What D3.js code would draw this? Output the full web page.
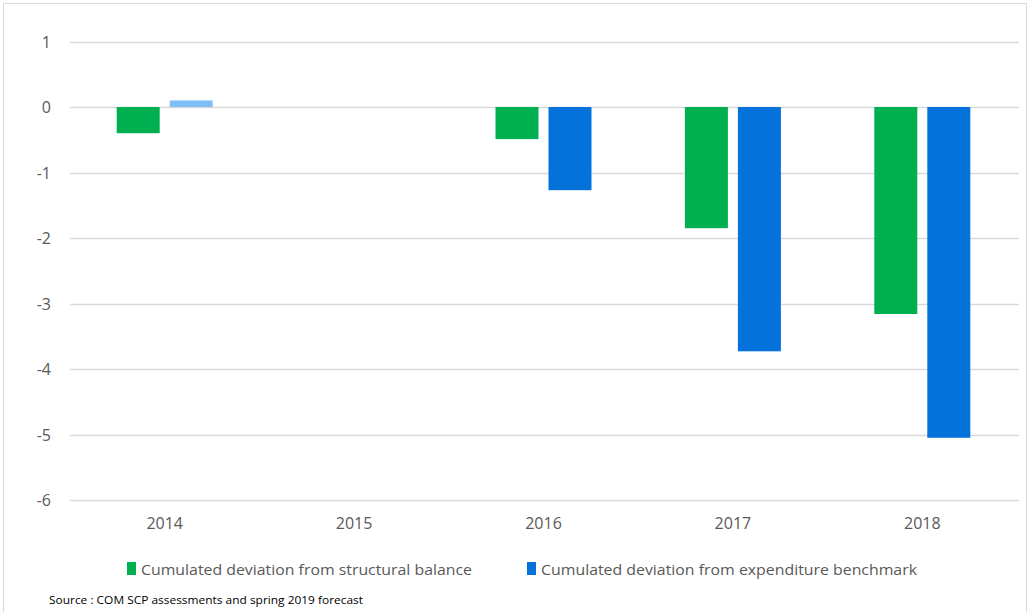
<!DOCTYPE html>
<html><head><meta charset="utf-8">
<script src="https://cdn.jsdelivr.net/npm/d3@7"></script>
<style>body{margin:0;background:#fff}svg{display:block}</style>
</head><body>
<script>
const categories = ["2014","2015","2016","2017","2018"];
const seriesNames = ["Cumulated deviation from structural balance","Cumulated deviation from expenditure benchmark"];
const structuralBalance = [-0.40, null, -0.49, -1.85, -3.16];
const expenditureBenchmark = [0.10, null, -1.27, -3.73, -5.05];
const yTicks = [1,0,-1,-2,-3,-4,-5,-6];
const sourceText = "Source : COM SCP assessments and spring 2019 forecast";

const W=1029,H=612;
const svg=d3.select("body").append("svg").attr("width",W).attr("height",H);
svg.append("rect").attr("x",3.5).attr("y",3.5).attr("width",1023).attr("height",620).attr("fill","#fff").attr("stroke","#d9d9d9");

const x=d3.scaleBand().domain(categories).range([70,1017]);
const y=d3.scaleLinear().domain([-6,1]).range([500,41.5]);
const colors=["#00B050","#0572DB"];
const font="'Open Sans', 'Liberation Sans', Arial, sans-serif";

svg.append("g").selectAll("line").data(yTicks).join("line")
 .attr("x1",70).attr("x2",1019).attr("y1",d=>Math.round(y(d))+0.5).attr("y2",d=>Math.round(y(d))+0.5)
 .attr("stroke","#d9d9d9").attr("stroke-width",1.3);

svg.append("g").selectAll("text").data(yTicks).join("text")
 .attr("x",51).attr("y",d=>y(d)+6).attr("text-anchor","end")
 .attr("font-family",font).attr("font-size",16).attr("fill","#595959").text(d=>d);

svg.append("g").selectAll("text").data(categories).join("text")
 .attr("x",d=>x(d)+x.bandwidth()/2).attr("y",529).attr("text-anchor","middle")
 .attr("font-family",font).attr("font-size",16).attr("fill","#595959").text(d=>d);

const series=[structuralBalance,expenditureBenchmark];
const bw=43, gap=10;
series.forEach((vals,si)=>{
  svg.append("g").selectAll("rect").data(categories.map((c,i)=>({c,v:vals[i]})).filter(d=>d.v!==null)).join("rect")
   .attr("x",d=>x(d.c)+x.bandwidth()/2+(si===0?-(bw+gap/2):gap/2))
   .attr("width",bw)
   .attr("y",d=>Math.min(y(d.v),y(0)))
   .attr("height",d=>Math.abs(y(d.v)-y(0)))
   .attr("fill",d=>(si===1&&d.v>0)?"#80BEF7":colors[si]);
});

const legX=[127,527], legLen=[331,376];
seriesNames.forEach((n,i)=>{
  svg.append("rect").attr("x",legX[i]).attr("y",562).attr("width",9).attr("height",13).attr("fill",colors[i]);
  svg.append("text").attr("x",legX[i]+14).attr("y",575).attr("font-family",font).attr("font-size",15)
   .attr("textLength",legLen[i]).attr("lengthAdjust","spacingAndGlyphs")
   .attr("fill","#595959").text(n);
});
svg.append("text").attr("x",49).attr("y",604).attr("font-family",font).attr("font-size",11)
 .attr("textLength",314).attr("lengthAdjust","spacingAndGlyphs").attr("fill","#000").text(sourceText);
</script>
</body></html>
